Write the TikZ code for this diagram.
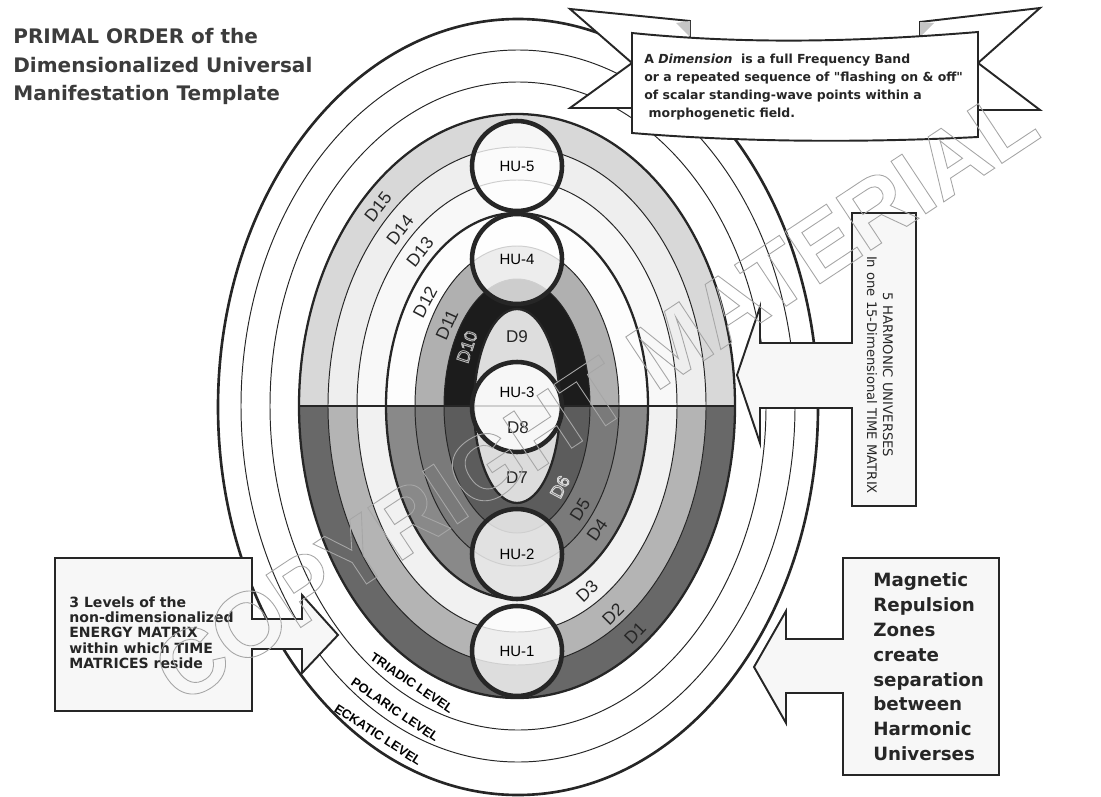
\documentclass[tikz,border=0pt]{standalone}
\usepackage{fontspec}
\setmainfont{DejaVu Sans}
\newfontfamily\arialfont{Liberation Sans}
\newfontfamily\straightfont{DejaVu Sans}[Ligatures=TeXOff]

\definecolor{ink}{HTML}{262626}
\definecolor{dim1}{HTML}{686868}
\definecolor{dim2}{HTML}{B4B4B4}
\definecolor{dim3}{HTML}{F1F1F1}
\definecolor{dim4}{HTML}{898989}
\definecolor{dim5}{HTML}{7A7A7A}
\definecolor{dim6}{HTML}{5C5C5C}
\definecolor{dim7}{HTML}{DCDCDC}
\definecolor{dim9}{HTML}{DDDDDD}
\definecolor{dim10}{HTML}{1C1C1C}
\definecolor{dim11}{HTML}{B0B0B0}
\definecolor{dim12}{HTML}{FDFDFD}
\definecolor{dim13}{HTML}{F8F8F8}
\definecolor{dim14}{HTML}{EEEEEE}
\definecolor{dim15}{HTML}{D8D8D8}

\newcommand{\hollow}[1]{\special{pdf:literal direct 1 Tr 0.5 w}#1\special{pdf:literal direct 0 Tr}}
\newcommand{\dq}{{\straightfont"}}

\begin{document}
\begin{tikzpicture}[x=0.02cm, y=-0.02cm,
  hu/.style={circle, draw=ink, line width=2.6pt, fill=white, fill opacity=0.78,
    text opacity=1, minimum size=1.8cm, inner sep=0pt,
    font=\arialfont\fontsize{8.5}{10}\selectfont},
  dimname/.style={font=\arialfont\fontsize{9.7}{11}\selectfont, text=ink},
  band/.style={font=\arialfont\fontsize{10}{11}\selectfont, text=ink, inner sep=0pt},
  level/.style={font=\arialfont\bfseries\fontsize{7.3}{8}\selectfont, inner sep=0pt},
  callout/.style={draw=ink, line width=1.1pt, fill=white!97!black},
  thinring/.style={draw=ink, line width=0.55pt},
  thickring/.style={draw=ink, line width=1.3pt}]
  \useasboundingbox (0,0) rectangle (1101,797);

  % the three levels of the energy matrix
  \draw[thinring] (518,406) ellipse [x radius=248, y radius=324];
  \draw[thinring] (518,406) ellipse [x radius=277, y radius=356];
  \draw[draw=ink, line width=1.5pt] (518,407) ellipse [x radius=300, y radius=388];

  % dimensional bands, upper half
  \begin{scope}
    \clip (290,100) rectangle (745,406);
    \foreach \a/\b/\c in {218/292/dim15, 189/259/dim14, 160/226/dim13, 131/193/dim12,
                          102/160/dim11, 73/127/dim10, 43/97/dim9}
      \fill[\c] (517,406) ellipse [x radius=\a, y radius=\b];
  \end{scope}
  % dimensional bands, lower half
  \begin{scope}
    \clip (290,406) rectangle (745,710);
    \foreach \a/\b/\c in {218/292/dim1, 189/259/dim2, 160/226/dim3, 131/193/dim4,
                          102/160/dim5, 73/127/dim6, 43/97/dim7}
      \fill[\c] (517,406) ellipse [x radius=\a, y radius=\b];
  \end{scope}
  \foreach \a/\b/\s in {218/292/thickring, 189/259/thinring, 160/226/thinring,
                        131/193/thickring, 102/160/thinring, 73/127/thinring, 43/97/thickring}
    \draw[\s] (517,406) ellipse [x radius=\a, y radius=\b];
  \draw[draw=ink, line width=1.5pt] (299,406) -- (735,406);

  % band labels
  \node[band, rotate=52] (d15) at (378,207) {D15};
  \node[band, rotate=52] (d14) at (400,230) {D14};
  \node[band, rotate=52] (d13) at (420,252) {D13};
  \node[band, rotate=62] (d12) at (425,302) {D12};
  \node[band, rotate=66] (d11) at (447,325) {D11};
  \node[band, rotate=72, text=gray!55] (d10) at (467,347) {\hollow{D10}};
  \node[band, rotate=62, text=gray!30] (d6) at (560,487) {\hollow{D6}};
  \node[band, rotate=58] (d5) at (580,510) {D5};
  \node[band, rotate=55] (d4) at (597,530) {D4};
  \node[band, rotate=44] (d3) at (587,591) {D3};
  \node[band, rotate=45] (d2) at (613,614) {D2};
  \node[band, rotate=46] (d1) at (635,633) {D1};

  % harmonic universes
  \node[hu] (hu5) at (517,166) {HU-5};
  \node[hu] (hu4) at (517,259) {HU-4};
  \node[hu] (hu3) at (517,407) {};
  \node[hu] (hu2) at (517,554) {HU-2};
  \node[hu] (hu1) at (517,651) {HU-1};
  \node[font=\arialfont\fontsize{8.5}{10}\selectfont] (hu3name) at (517,392) {HU-3};
  \node[dimname] (d9) at (517,337) {D9};
  \node[dimname] (d8) at (518,428) {D8};
  \node[dimname] (d7) at (517,478) {D7};

  % level names
  \node[level, rotate=-34] (triadic) at (412,683) {TRIADIC LEVEL};
  \node[level, rotate=-34] (polaric) at (395,710) {POLARIC LEVEL};
  \node[level, rotate=-33] (eckatic) at (378,735) {ECKATIC LEVEL};

  % title
  \node[anchor=north west, align=left, inner sep=0pt, text=ink!90,
    font=\bfseries\fontsize{11.4}{16.2}\selectfont] (title) at (13,28)
    {PRIMAL ORDER of the\\Dimensionalized Universal\\Manifestation Template};

  % callouts
  \draw[callout] (852,213) -- (916,213) -- (916,506) -- (852,506) -- (852,408)
    -- (760,408) -- (760,443) -- (737,375) -- (760,307) -- (760,343) -- (852,343) -- cycle;
  \node[rotate=-90, align=center, inner sep=0pt, text=ink,
    font=\fontsize{7.5}{9.1}\selectfont] (harmonic) at (880,375)
    {5 HARMONIC UNIVERSES\\In one 15-Dimensional TIME MATRIX};

  \draw[callout] (55,558) -- (252,558) -- (252,619) -- (302,619) -- (302,595)
    -- (338,635) -- (302,673) -- (302,649) -- (252,649) -- (252,711) -- (55,711) -- cycle;
  \node[anchor=north west, align=left, inner sep=0pt, text=ink,
    font=\bfseries\fontsize{8}{8.76}\selectfont] (energy) at (69,596)
    {3 Levels of the\\non-dimensionalized\\ENERGY MATRIX\\within which TIME\\MATRICES reside};

  \draw[callout] (843,558) -- (999,558) -- (999,775) -- (843,775) -- (843,693)
    -- (786,693) -- (786,723) -- (754,667) -- (786,611) -- (786,639) -- (843,639) -- cycle;
  \node[anchor=north west, align=left, inner sep=0pt, text=ink,
    font=\bfseries\fontsize{10.4}{14.2}\selectfont] (repulsion) at (873,572)
    {Magnetic\\Repulsion\\Zones\\create\\separation\\between\\Harmonic\\Universes};

  % banner
  \draw[callout, fill=white] (570,9) -- (690,21) -- (690,108) -- (570,108) -- (632,63) -- cycle;
  \draw[callout, fill=white] (1040,8) -- (920,22) -- (920,110) -- (1040,110) -- (978,63) -- cycle;
  \fill[gray!45] (676,23) -- (690,21) -- (690,37) -- cycle;
  \fill[gray!45] (934,23) -- (920,22) -- (920,37) -- cycle;
  \draw[callout, fill=white] (632,33) .. controls (760,46) and (880,40) .. (978,32)
    -- (978,137) .. controls (860,143) and (740,142) .. (632,133) -- cycle;
  \node[anchor=north west, align=left, inner sep=0pt, text=ink,
    font=\bfseries\fontsize{7.1}{10.1}\selectfont] (dimension) at (644,54)
    {A \textit{Dimension}\ \ is a full Frequency Band\\
     or a repeated sequence of \dq flashing on \& off\dq\\
     of scalar standing-wave points within a\\
     \ morphogenetic field.};

  % watermark
  \node[rotate=33.5, text=gray!70, font=\arialfont\bfseries\fontsize{52}{52}\selectfont]
    (mark) at (595,395) {\hollow{COPYRIGHT MATERIAL}};
\end{tikzpicture}
\end{document}
